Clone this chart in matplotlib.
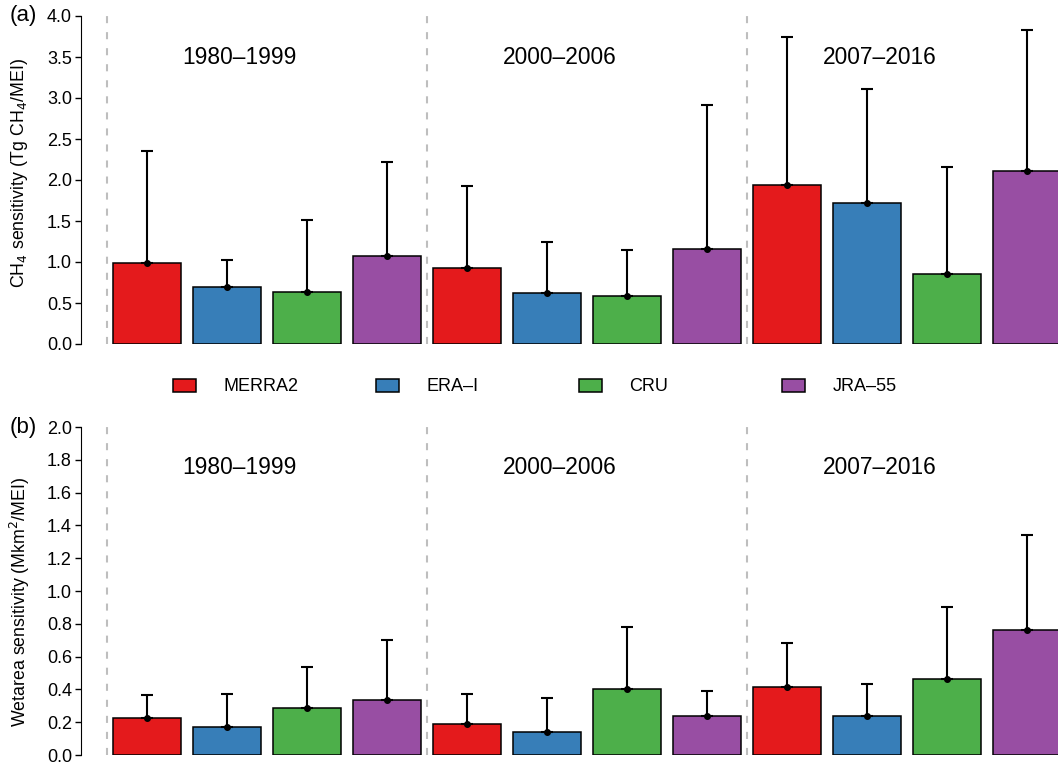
import numpy as np
import matplotlib.pyplot as plt
from matplotlib.patches import Patch

plt.rcParams['font.family'] = ['Liberation Sans', 'DejaVu Sans']

periods = ["1980\u20131999", "2000\u20132006", "2007\u20132016"]
datasets = ["MERRA2", "ERA\u2013I", "CRU", "JRA\u201355"]
colors = ["#E41A1C", "#377EB8", "#4DAF4A", "#984EA3"]

# CH4 sensitivity (Tg CH4/MEI), rows = periods, cols = datasets
ch4_mean = [[0.99, 0.69, 0.63, 1.07],
            [0.93, 0.62, 0.59, 1.16],
            [1.94, 1.72, 0.85, 2.11]]
ch4_upper = [[2.35, 1.03, 1.51, 2.22],
             [1.93, 1.24, 1.15, 2.91],
             [3.75, 3.11, 2.16, 3.83]]

# wetland area sensitivity (Mkm2/MEI)
wet_mean = [[0.225, 0.17, 0.285, 0.335],
            [0.19, 0.14, 0.405, 0.24],
            [0.415, 0.235, 0.465, 0.76]]
wet_upper = [[0.365, 0.37, 0.535, 0.70],
             [0.37, 0.345, 0.78, 0.39],
             [0.685, 0.435, 0.905, 1.34]]

ch4_ticks = np.arange(0, 4.01, 0.5)
wet_ticks = np.arange(0, 2.01, 0.2)

W, H = 1058, 767
fig = plt.figure(figsize=(W / 100, H / 100), dpi=100)


def panel(ax, mean, upper, ticks, ylabel, tag, ylab_y):
    mean = np.array(mean)
    upper = np.array(upper)
    top = ticks[-1]
    for p in range(len(periods)):
        x = 4 * p + np.arange(4) + 0.5
        ax.bar(x, mean[p], width=0.84, color=colors, edgecolor="black",
               linewidth=1.1, zorder=2)
        ax.errorbar(x, mean[p], yerr=[np.zeros(4), upper[p] - mean[p]],
                    fmt="o", ms=4, color="black", ecolor="black",
                    elinewidth=1.5, capsize=4, capthick=1.5, zorder=3)
        ax.axvline(4 * p, color="#BEBEBE", lw=1.5, dashes=(3.4, 4.3),
                   zorder=1)
        ax.text(4 * p + 1.66, top * 0.875, periods[p], ha="center",
                va="center", fontsize=16.4)
    ax.set_xlim(-0.325, (W - 107) / 80)
    ax.set_ylim(0, top)
    for s in ["top", "right", "bottom"]:
        ax.spines[s].set_visible(False)
    ax.spines["left"].set_bounds(0, top)
    ax.set_xticks([])
    ax.set_yticks(ticks)
    ax.set_yticklabels(["%.1f" % t for t in ticks])
    ax.tick_params(axis="y", length=4.5, width=1, pad=2, labelsize=13)
    fig.text(20 / W, ylab_y, ylabel, rotation=90, ha="center", va="center",
             fontsize=12.8)
    pos = ax.get_position()
    fig.text(10 / W, pos.y1, tag, ha="left", va="center", fontsize=16)


ax1 = fig.add_axes([81 / W, 1 - 344 / H, 1 - 81 / W, 328 / H])
panel(ax1, ch4_mean, ch4_upper, ch4_ticks,
      "CH$_4$ sensitivity (Tg CH$_4$/MEI)", "(a)", 1 - 173 / H)

ax2 = fig.add_axes([81 / W, 1 - 755 / H, 1 - 81 / W, 328 / H])
panel(ax2, wet_mean, wet_upper, wet_ticks,
      "Wetarea sensitivity (Mkm$^2$/MEI)", "(b)", 1 - 602 / H)

# legend entries sit on an even spacing, one small legend per dataset
for i, (c, name) in enumerate(zip(colors, datasets)):
    fig.legend([Patch(facecolor=c, edgecolor="black", linewidth=1.1)], [name],
               loc="center left", bbox_to_anchor=((173 + 203 * i) / W, 1 - 387 / H),
               frameon=False, fontsize=13, handlelength=1.3, handleheight=0.72,
               handletextpad=1.5, borderpad=0, borderaxespad=0)

fig.savefig("out.png", dpi=100)
